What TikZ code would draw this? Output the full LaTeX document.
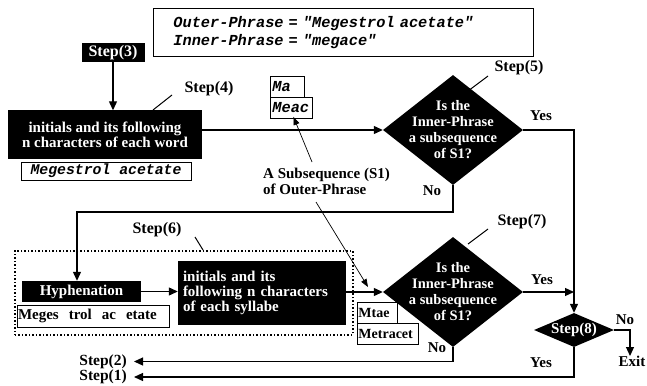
\documentclass[tikz,border=0pt]{standalone}
\usepackage{fontspec}
\setmainfont{Liberation Serif}
\setmonofont{Liberation Mono}
\usetikzlibrary{arrows.meta,shapes.geometric,calc}
\tikzset{
 lbl/.style={font=\fontsize{15}{16}\selectfont\bfseries, inner sep=0},
 steplbl/.style={font=\fontsize{16}{16}\selectfont\bfseries, inner sep=0},
 bigstep/.style={font=\fontsize{15.5}{15}\selectfont\bfseries, inner ysep=0, inner xsep=7pt},
 blk/.style={fill=black, text=white, font=\fontsize{15}{15}\selectfont\bfseries, inner sep=0},
 wbox/.style={draw, line width=0.9pt, fill=white, inner sep=0},
 mono/.style={font=\fontsize{15.3}{18}\selectfont\ttfamily\bfseries\itshape},
 serifb/.style={font=\fontsize{14}{14}\selectfont\bfseries},
 dia/.style={diamond, fill=black, inner sep=0},
 dialbl/.style={text=white, align=center, inner sep=0, font=\fontsize{14.5}{16}\selectfont\bfseries},
 conn/.style={line width=1.2pt, -{Triangle[length=9pt,width=8pt]}},
 thinarr/.style={line width=0.7pt, -{Triangle[length=8pt,width=6pt]}},
 leader/.style={line width=1pt},
 dotbox/.style={draw, dotted, line width=1.5pt, inner sep=0},
}
\begin{document}
\begin{tikzpicture}[x=1pt,y=-1pt]
\useasboundingbox (0,0) rectangle (647,385);
% dotted group
\node[dotbox, minimum width=338pt, minimum height=84pt, anchor=north west] (grp) at (14,250) {};
% top definition box
\node[wbox, mono, anchor=north west, minimum width=380pt, minimum height=48pt, text width=340pt, inner xsep=20pt, align=left] (defs) at (153,8)
  {Outer-Phrase = "Megestrol acetate"\\Inner-Phrase = "megace"};
% step 3
\node[blk, steplbl, text=white, minimum width=63pt, minimum height=19pt] (s3) at (113,52.5) {Step(3)};
% box 1
\node[blk, minimum width=194pt, minimum height=48pt, align=center] (box1) at (105,134.5)
  {initials and its following\\n characters of each word};
\node[wbox, mono, font=\fontsize{14.8}{15}\selectfont\ttfamily\bfseries\itshape, minimum width=170pt, minimum height=18pt] (meg1) at (106,171) {Megestrol acetate};
\node[steplbl] (s4) at (209,89) {Step(4)};
% Ma / Meac
\node[wbox, mono, anchor=north west, minimum height=21pt, text width=30pt, inner xsep=2pt, align=left] (ma) at (270,76) {Ma};
\node[wbox, mono, anchor=north west, minimum height=21pt, text width=38pt, inner xsep=2pt, align=left] (meac) at (270,97) {Meac};
% diamond 1
\node[dia, minimum width=140pt, minimum height=110pt,
  label={[dialbl]center:{Is the\\Inner-Phrase\\a subsequence\\of S1?}}] (d1) at (453,130) {};
\node[steplbl] (s5) at (519,68) {Step(5)};
\node[lbl] (yes1) at (541,116) {Yes};
\node[lbl] (no1) at (432,191) {No};
% subsequence label
\node[lbl, align=left, anchor=west] (sub) at (263,181) {A Subsequence (S1)\\of Outer-Phrase};
% step 6 group
\node[steplbl] (s6) at (157,230) {Step(6)};
\node[blk, minimum width=119pt, minimum height=21pt] (hyph) at (81.5,291.5) {Hyphenation};
\node[wbox, font=\fontsize{15}{15}\selectfont\bfseries, minimum height=22pt, text width=150pt, inner xsep=1pt, align=left] (meg2) at (93,316) {Meges~~trol~~ac~~etate};
\node[blk, minimum height=64pt, text width=158pt, inner xsep=5pt, align=left] (box2) at (262,293)
  {initials and its\\following n characters\\of each syllabe};
% diamond 2
\node[dia, minimum width=140pt, minimum height=110pt,
  label={[dialbl]center:{Is the\\Inner-Phrase\\a subsequence\\of S1?}}] (d2) at (453,292) {};
\node[steplbl] (s7) at (522,222) {Step(7)};
\node[lbl] (yes2) at (542,280) {Yes};
\node[lbl] (no2) at (437,348) {No};
\node[wbox, serifb, anchor=north west, minimum height=21pt, text width=38pt, inner xsep=1pt, align=left] (mtae) at (357,302) {Mtae};
\node[wbox, serifb, anchor=north west, minimum height=21pt, text width=59pt, inner xsep=1pt, align=left] (metr) at (357,323) {Metracet};
% diamond 8
\node[dia, minimum width=80pt, minimum height=34pt,
  label={[dialbl, font=\fontsize{15}{15}\selectfont\bfseries]center:{Step(8)}}] (d8) at (574,330) {};
\node[lbl] (no3) at (625,320) {No};
\node[lbl, anchor=north] (exit) at (632,356) {Exit};
\node[lbl] (yes3) at (541,363) {Yes};
% step 1 / 2
\node[bigstep, anchor=east] (s2) at (134,361.5) {Step(2)};
\node[bigstep, anchor=east] (s1) at (134,377) {Step(1)};
% coordinates
\coordinate (l4a) at (153,110); \coordinate (l4b) at (172,95);
\coordinate (l5a) at (468,91);  \coordinate (l5b) at (488,76);
\coordinate (l6a) at (195,237); \coordinate (l6b) at (203,250);
\coordinate (l7a) at (468,244); \coordinate (l7b) at (488,229);
\coordinate (subA) at (312,162);
\coordinate (subB) at (316,202);
\coordinate (subBend) at (368,287);
\coordinate (nob) at (453,212);
% connectors
\draw[conn] (s3) -- (s3 |- box1.north);
\draw[conn] (box1.east |- d1.west) -- (d1.west);
\draw[conn] (d1.east) -| (d8.north);
\draw[conn] (d1.south) -- (nob) -| ([xshift=-4.5pt]hyph.north);
\draw[conn] (hyph.east) -- (hyph.east -| box2.west);
\draw[conn] (box2.east |- d2.west) -- (d2.west);
\draw[conn] (d2.east) -- (d2.east -| d8.north);
\draw[conn] (d2.south) |- (s2.east);
\draw[conn] (d8.south) |- (s1.east);
\draw[conn] (d8.east) -| ([xshift=-2pt]exit.north);
\draw[thinarr] (subA) -- ([xshift=2pt,yshift=2pt]meac.south);
\draw[thinarr] (subB) -- (subBend);
\draw[leader] (l4a) -- (l4b);
\draw[leader] (l5a) -- (l5b);
\draw[leader] (l6a) -- (l6b);
\draw[leader] (l7a) -- (l7b);
\end{tikzpicture}
\end{document}
